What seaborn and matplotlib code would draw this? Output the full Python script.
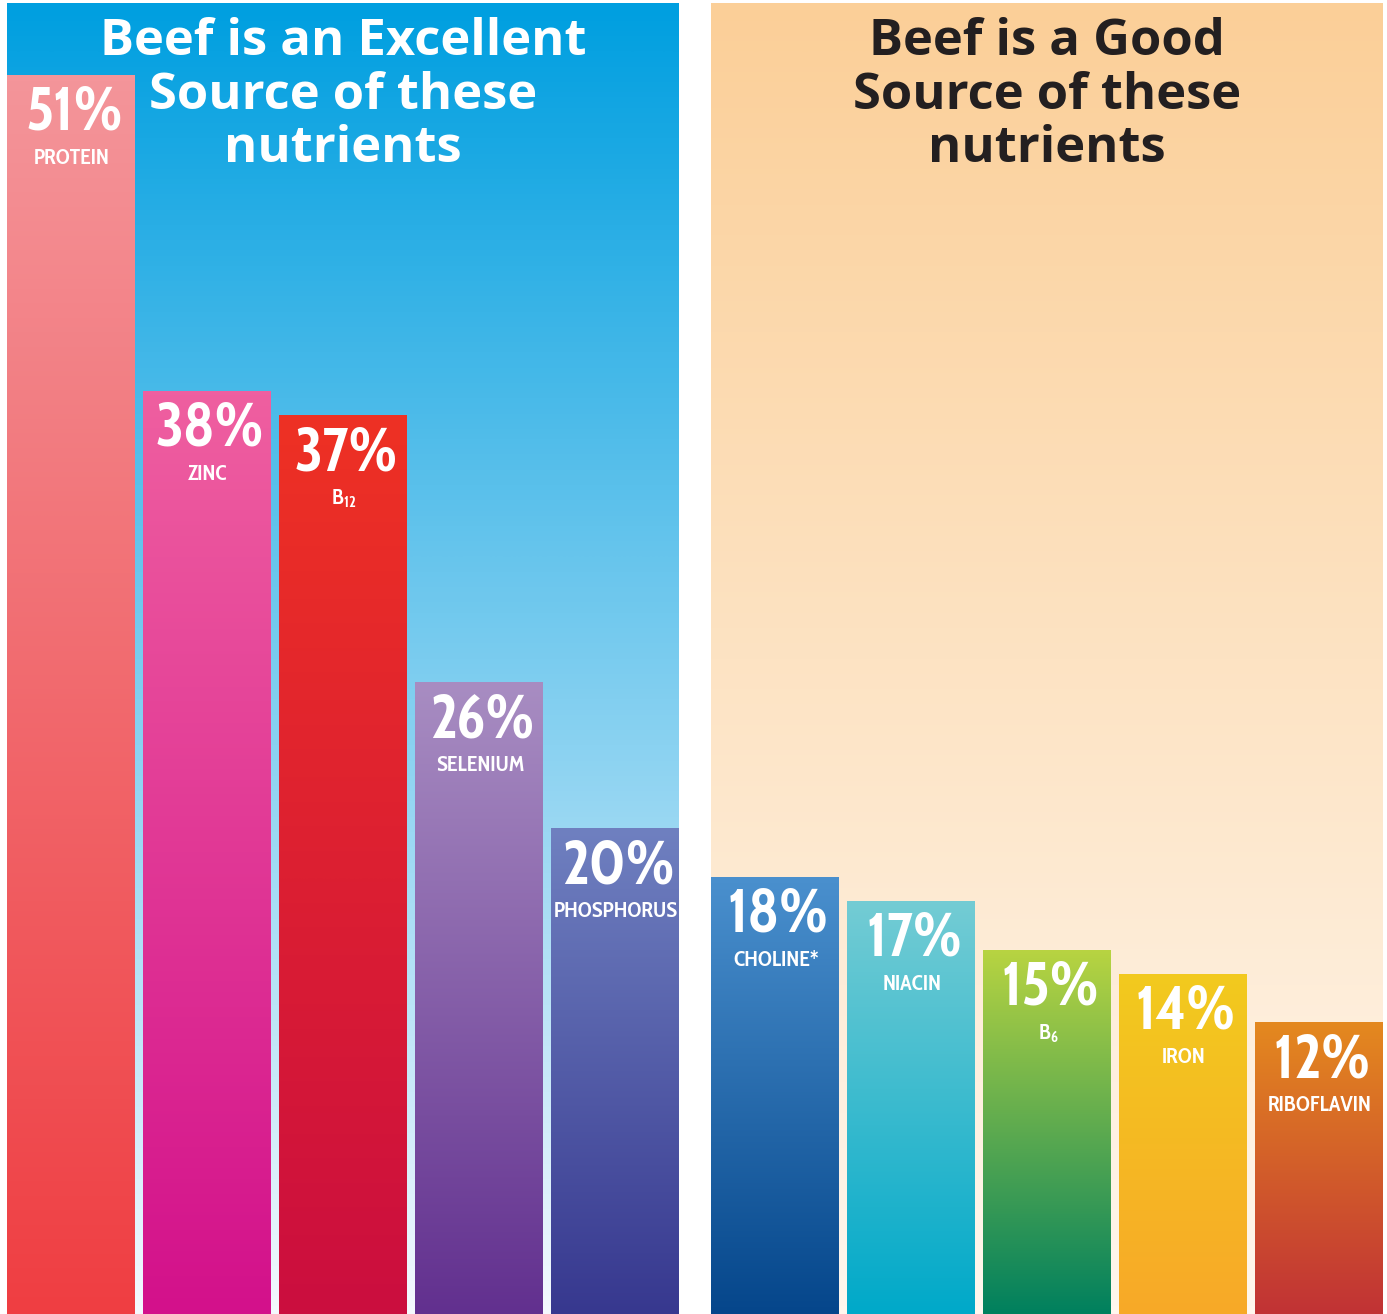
import numpy as np
import pandas as pd
import matplotlib
matplotlib.use("Agg")
import matplotlib.pyplot as plt
import seaborn as sns
from matplotlib.colors import LinearSegmentedColormap

# data
excellent_names = ["PROTEIN", "ZINC", "B$_{12}$", "SELENIUM", "PHOSPHORUS"]
excellent_values = [51, 38, 37, 26, 20]
good_names = ["CHOLINE*", "NIACIN", "B$_{6}$", "IRON", "RIBOFLAVIN"]
good_values = [18, 17, 15, 14, 12]
excellent_title = ["Beef is an Excellent", "Source of these", "nutrients"]
good_title = ["Beef is a Good", "Source of these", "nutrients"]

# bar gradients, top colour then bottom colour
excellent_top = ["#F4959A", "#EF5FA0", "#EE3124", "#A88DC2", "#6F80C0"]
excellent_bottom = ["#EF3E42", "#D3118B", "#CB0E3F", "#62308F", "#37388F"]
good_top = ["#4A90CE", "#74CCD4", "#B8D441", "#F2CA1E", "#E4891F"]
good_bottom = ["#05468B", "#00A9C9", "#00805E", "#F8A928", "#C13235"]

sns.set_theme(style="white")
plt.rcParams["font.family"] = ["Open Sans", "DejaVu Sans"]
plt.rcParams["mathtext.default"] = "regular"

NARROW = ["Cabin Condensed", "Roboto Condensed", "Open Sans", "DejaVu Sans"]

W, H = 1387, 1314
fig = plt.figure(figsize=(W / 100, H / 100), dpi=100)
fig.patch.set_facecolor("white")

BAR_W = 128 / 136
YMAX = 1311 * 51 / 1239
TITLE_BASELINES = [55, 109, 162]  # pixels from the top of the figure


def gradient(ax, top, bottom, extent, transform=None, clip=None, z=1):
    cmap = LinearSegmentedColormap.from_list("g", [bottom, top])
    grad = np.linspace(0, 1, 256).reshape(-1, 1)
    kw = dict(cmap=cmap, aspect="auto", origin="lower", extent=extent,
              zorder=z, interpolation="bicubic")
    if transform is not None:
        kw["transform"] = transform
    im = ax.imshow(grad, **kw)
    if clip is not None:
        im.set_clip_path(clip)
    return im


def panel(left_px, names, values, tops, bottoms, bg_top, bg_bottom,
          title, title_color):
    ax = fig.add_axes([left_px / W, 0, 672 / W, 1311 / H])
    df = pd.DataFrame({"nutrient": names, "value": values})
    sns.barplot(data=df, x="nutrient", y="value", hue="nutrient",
                palette=bottoms, width=BAR_W, legend=False, ax=ax,
                saturation=1, zorder=2)
    gradient(ax, bg_top, bg_bottom, [0, 1, 0, 1], transform=ax.transAxes, z=0)
    for p, t, b, name, v in zip(ax.patches, tops, bottoms, names, values):
        x0, w, h = p.get_x(), p.get_width(), p.get_height()
        p.set_edgecolor("none")
        gradient(ax, t, b, [x0, x0 + w, 0, h], clip=p, z=3)
        cx = x0 + w / 2
        ax.annotate(f"{v}%", (cx, h), xytext=(3, -9), textcoords="offset pixels",
                    ha="center", va="top", color="white", fontsize=44,
                    fontweight="bold", family=NARROW, zorder=5)
        ax.annotate(name, (cx, h), xytext=(1, -73), textcoords="offset pixels",
                    ha="center", va="top", color="white", fontsize=15.5,
                    fontweight="bold", family=NARROW, zorder=5)
    for line, base in zip(title, TITLE_BASELINES):
        ax.text(0.5, (H - base) / 1311, line, transform=ax.transAxes,
                ha="center", va="baseline", color=title_color, fontsize=36.5,
                fontweight="bold", zorder=1)
    ax.set_xlim(-BAR_W / 2, len(values) - 1 + BAR_W / 2)
    ax.set_ylim(0, YMAX)
    ax.set_axis_off()
    return ax


panel(7, excellent_names, excellent_values, excellent_top, excellent_bottom,
      "#009FE0", "#F4F9FE", excellent_title, "white")
panel(711, good_names, good_values, good_top, good_bottom,
      "#FBCF98", "#FFF7EE", good_title, "#231F20")

fig.savefig("out.png", dpi=100)
